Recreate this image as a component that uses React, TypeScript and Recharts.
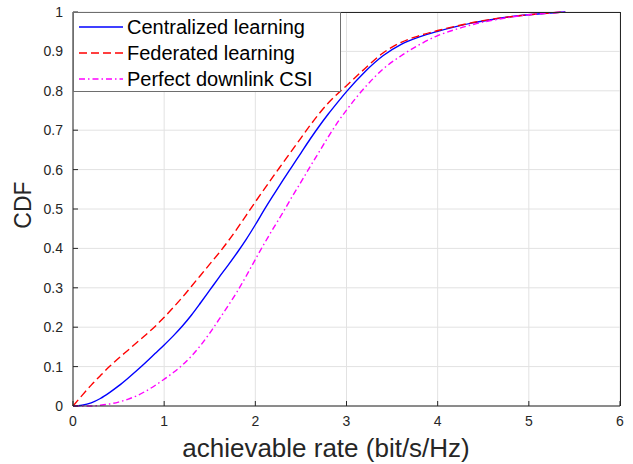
import { LineChart, Line, XAxis, YAxis, CartesianGrid } from "recharts";

// achievable rate (bit/s/Hz) sample points
const rates = [
  0, 0.1, 0.2, 0.3, 0.4, 0.5, 0.6, 0.7, 0.8, 0.9, 1.0, 1.1, 1.2, 1.3, 1.4, 1.5,
  1.6, 1.7, 1.8, 1.9, 2.0, 2.1, 2.2, 2.3, 2.4, 2.5, 2.6, 2.7, 2.8, 2.9, 3.0,
  3.2, 3.4, 3.6, 3.8, 4.0, 4.2, 4.4, 4.6, 4.8, 5.0, 5.2, 5.4,
];

const centralized = [
  0, 0.002, 0.008, 0.019, 0.034, 0.051, 0.07, 0.09, 0.111, 0.133, 0.155, 0.178,
  0.203, 0.231, 0.262, 0.294, 0.326, 0.357, 0.389, 0.423, 0.46, 0.499, 0.536,
  0.572, 0.607, 0.642, 0.677, 0.71, 0.741, 0.77, 0.798,
  0.848, 0.889, 0.918, 0.937, 0.951, 0.963, 0.973, 0.981, 0.988, 0.993, 0.997, 1,
];

const federated = [
  0, 0.027, 0.053, 0.077, 0.1, 0.121, 0.141, 0.161, 0.181, 0.202, 0.225, 0.25,
  0.276, 0.304, 0.332, 0.36, 0.388, 0.418, 0.45, 0.484, 0.518, 0.551, 0.584,
  0.616, 0.648, 0.68, 0.712, 0.742, 0.769, 0.792, 0.813,
  0.856, 0.896, 0.923, 0.94, 0.953, 0.964, 0.974, 0.982, 0.988, 0.993, 0.997, 1,
];

const perfectCsi = [
  0, 0, 0, 0.002, 0.005, 0.01, 0.017, 0.026, 0.038, 0.052, 0.068, 0.085, 0.104,
  0.127, 0.154, 0.185, 0.219, 0.254, 0.29, 0.33, 0.372, 0.413, 0.452, 0.49, 0.53,
  0.568, 0.607, 0.645, 0.683, 0.719, 0.751,
  0.808, 0.855, 0.889, 0.917, 0.94, 0.956, 0.969, 0.979, 0.987, 0.993, 0.997, 1,
];

const xTicks = [0, 1, 2, 3, 4, 5, 6];
const yTicks = [0, 0.1, 0.2, 0.3, 0.4, 0.5, 0.6, 0.7, 0.8, 0.9, 1];

const series = [
  { key: "centralized", name: "Centralized learning", color: "#0000ff", dash: undefined as string | undefined },
  { key: "federated", name: "Federated learning", color: "#ff0000", dash: "8 4" },
  { key: "perfect", name: "Perfect downlink CSI", color: "#ff00ff", dash: "6 3 1.5 3" },
];

const data = rates.map((x, i) => ({
  x,
  centralized: centralized[i],
  federated: federated[i],
  perfect: perfectCsi[i],
}));

const FONT = '"Liberation Sans", Arial, Helvetica, sans-serif';
const AXIS = "#262626";
const tickStyle = { fill: AXIS, fontSize: 14, fontFamily: FONT };

function LegendBox() {
  return (
    <div
      style={{
        position: "absolute",
        left: 73,
        top: 12,
        width: 268,
        height: 80,
        boxSizing: "border-box",
        background: "#fff",
        border: "1px solid #6e6e6e",
        fontFamily: FONT,
        fontSize: 20,
        color: "#000",
        paddingTop: 1,
      }}
    >
      {series.map((s) => (
        <div key={s.key} style={{ display: "flex", alignItems: "center", height: 26 }}>
          <svg width={52} height={10} style={{ flex: "none" }}>
            <line x1={5} x2={49} y1={5} y2={5} stroke={s.color} strokeWidth={1.4} strokeDasharray={s.dash} />
          </svg>
          <span style={{ marginLeft: 1, whiteSpace: "nowrap" }}>{s.name}</span>
        </div>
      ))}
    </div>
  );
}

export default function App() {
  return (
    <div style={{ position: "absolute", left: 0, top: 0, width: 633, height: 464, background: "#fff" }}>
      <LineChart
        width={633}
        height={464}
        data={data}
        margin={{ top: 12, right: 13, bottom: 0, left: 0 }}
        style={{ fontFamily: FONT }}
      >
        <CartesianGrid stroke="#e2e2e2" strokeWidth={1} />
        <XAxis
          dataKey="x"
          type="number"
          domain={[0, 6]}
          ticks={xTicks}
          height={58}
          stroke={AXIS}
          tickSize={-5}
          tickMargin={15}
          tick={tickStyle}
          label={{
            value: "achievable rate (bit/s/Hz)",
            content: () => (
              <text x={326} y={457} textAnchor="middle" fontSize={26} fill={AXIS} fontFamily={FONT}>
                achievable rate (bit/s/Hz)
              </text>
            ),
          }}
        />
        <YAxis
          type="number"
          domain={[0, 1]}
          ticks={yTicks}
          width={73}
          stroke={AXIS}
          tickSize={-5}
          tickMargin={15}
          tick={tickStyle}
          label={{
            value: "CDF",
            content: () => (
              <text
                x={31}
                y={205}
                transform="rotate(-90, 31, 205)"
                textAnchor="middle"
                fontSize={23}
                fill={AXIS}
                fontFamily={FONT}
              >
                CDF
              </text>
            ),
          }}
        />
        {series.map((s) => (
          <Line
            key={s.key}
            dataKey={s.key}
            name={s.name}
            type="monotone"
            stroke={s.color}
            strokeWidth={1.4}
            strokeDasharray={s.dash}
            dot={false}
            activeDot={false}
            isAnimationActive={false}
          />
        ))}
      </LineChart>
      {/* top and right edges of the axes box */}
      <div
        style={{
          position: "absolute",
          left: 73,
          top: 11.5,
          width: 547.5,
          height: 394.5,
          boxSizing: "border-box",
          borderTop: `1px solid ${AXIS}`,
          borderRight: `1px solid ${AXIS}`,
          pointerEvents: "none",
        }}
      />
      <LegendBox />
    </div>
  );
}
